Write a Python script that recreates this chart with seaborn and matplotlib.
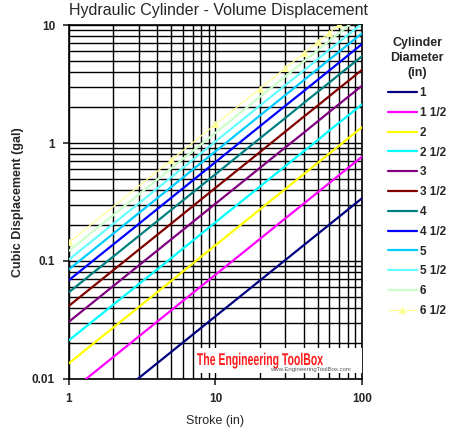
import numpy as np
import pandas as pd
import seaborn as sns
import matplotlib
import matplotlib.pyplot as plt
from matplotlib.lines import Line2D
from matplotlib.patches import PathPatch, Rectangle
from matplotlib.textpath import TextPath
from matplotlib.font_manager import FontProperties
from matplotlib.transforms import Affine2D, IdentityTransform
from matplotlib.ticker import LogLocator, NullFormatter, FixedLocator, FixedFormatter

matplotlib.use("Agg")

# stroke (in)
stroke = [1, 5, 10, 20, 30, 40, 50, 60, 70, 80, 90, 100]

# cubic displacement (gal), one list per cylinder diameter
vol_1 = [0.0034, 0.017, 0.034, 0.068, 0.102, 0.136, 0.17, 0.204, 0.238, 0.272, 0.306, 0.34]
vol_1_5 = [0.00765, 0.0383, 0.0765, 0.153, 0.230, 0.306, 0.383, 0.459, 0.536, 0.612, 0.689, 0.765]
vol_2 = [0.0136, 0.068, 0.136, 0.272, 0.408, 0.544, 0.68, 0.816, 0.952, 1.088, 1.224, 1.36]
vol_2_5 = [0.0213, 0.106, 0.213, 0.425, 0.638, 0.85, 1.06, 1.28, 1.49, 1.70, 1.91, 2.13]
vol_3 = [0.0306, 0.153, 0.306, 0.612, 0.918, 1.22, 1.53, 1.84, 2.14, 2.45, 2.75, 3.06]
vol_3_5 = [0.0417, 0.208, 0.417, 0.833, 1.25, 1.67, 2.08, 2.50, 2.92, 3.33, 3.75, 4.17]
vol_4 = [0.0544, 0.272, 0.544, 1.09, 1.63, 2.18, 2.72, 3.26, 3.81, 4.35, 4.90, 5.44]
vol_4_5 = [0.0689, 0.344, 0.689, 1.38, 2.07, 2.75, 3.44, 4.13, 4.82, 5.51, 6.20, 6.89]
vol_5 = [0.085, 0.425, 0.85, 1.70, 2.55, 3.40, 4.25, 5.10, 5.95, 6.80, 7.65, 8.50]
vol_5_5 = [0.103, 0.514, 1.03, 2.06, 3.09, 4.11, 5.14, 6.17, 7.20, 8.23, 9.26, 10.3]
vol_6 = [0.122, 0.612, 1.22, 2.45, 3.67, 4.90, 6.12, 7.34, 8.57, 9.79, 11.0, 12.2]
vol_6_5 = [0.144, 0.718, 1.44, 2.87, 4.31, 5.75, 7.18, 8.62, 10.1, 11.5, 12.9, 14.4]

diameters = ["1", "1 1/2", "2", "2 1/2", "3", "3 1/2", "4", "4 1/2", "5", "5 1/2", "6", "6 1/2"]
volumes = [vol_1, vol_1_5, vol_2, vol_2_5, vol_3, vol_3_5, vol_4, vol_4_5,
           vol_5, vol_5_5, vol_6, vol_6_5]
colors = ["#000080", "#FF00FF", "#FFFF00", "#00FFFF", "#800080", "#800000",
          "#008080", "#0000FF", "#00CCFF", "#66FFFF", "#CCFFCC", "#FFFF99"]

sns.set_style("white")
plt.rcParams["font.family"] = ["Liberation Sans", "DejaVu Sans"]

fig = plt.figure(figsize=(4.55, 4.41), dpi=100)
ax = fig.add_axes([0.1516, 0.1406, 0.644, 0.8027])

handles = []
for name, vals, col in zip(diameters, volumes, colors):
    df = pd.DataFrame({"stroke": stroke, "vol": vals})
    last = name == "6 1/2"
    sns.lineplot(x="stroke", y="vol", data=df, ax=ax, color=col,
                 lw=0.9 if last else 1.6,
                 marker="^" if last else None, markersize=5,
                 markeredgecolor=col, zorder=3)
    handles.append(Line2D([0], [0], color=col, lw=0.9 if last else 1.6,
                          marker="^" if last else None, markersize=5,
                          markeredgecolor=col))

ax.set_xscale("log")
ax.set_yscale("log")
ax.set_xlim(1, 100)
ax.set_ylim(0.01, 10)

ax.xaxis.set_major_locator(FixedLocator([1, 10, 100]))
ax.xaxis.set_major_formatter(FixedFormatter(["1", "10", "100"]))
ax.yaxis.set_major_locator(FixedLocator([0.01, 0.1, 1, 10]))
ax.yaxis.set_major_formatter(FixedFormatter(["0.01", "0.1", "1", "10"]))
ax.xaxis.set_minor_locator(LogLocator(base=10, subs=np.arange(2, 10)))
ax.yaxis.set_minor_locator(LogLocator(base=10, subs=np.arange(2, 10)))
ax.xaxis.set_minor_formatter(NullFormatter())
ax.yaxis.set_minor_formatter(NullFormatter())

ax.grid(True, which="both", color="black", lw=1.0, zorder=1)
ax.set_axisbelow(True)
for s in ax.spines.values():
    s.set_color("black")
    s.set_linewidth(1.2)

ax.tick_params(axis="both", which="major", length=4, width=1.2, direction="out",
               labelsize=8.5, pad=6, bottom=True, left=True)
ax.tick_params(axis="both", which="minor", length=0)
for lab in ax.get_xticklabels() + ax.get_yticklabels():
    lab.set_fontweight("bold")

ax.set_xlabel("Stroke (in)", fontsize=9, labelpad=7)
ax.set_ylabel("Cubic Displacement (gal)", fontsize=9, fontweight="bold", labelpad=6)
fig.text(0.481, 0.977, "Hydraulic Cylinder - Volume Displacement",
         ha="center", va="center", fontsize=11.5)

# watermark: white box, condensed red logo text, small url
ax.add_patch(Rectangle((0.435, 0.018), 0.565, 0.07, transform=ax.transAxes,
                       facecolor="white", edgecolor="none", zorder=4))
tp = TextPath((0, 0), "The Engineering ToolBox", size=17,
              prop=FontProperties(family="Liberation Sans", weight="bold"))
ext = tp.get_extents()
sx = 126.0 / ext.width
logo_tf = Affine2D().scale(sx, 1.0).translate(197 - ext.x0 * sx, 441 - 365)
ax.add_patch(PathPatch(tp, transform=logo_tf + IdentityTransform(),
                       facecolor="#FF1A1A", edgecolor="none", zorder=5))
ax.text(0.96, 0.028, "www.EngineeringToolBox.com", transform=ax.transAxes,
        color="#555555", fontsize=4.3, ha="right", va="center", zorder=5)

leg = fig.legend(handles, diameters, loc="upper left",
                 bbox_to_anchor=(0.83, 0.94), frameon=False,
                 title="Cylinder\nDiameter\n(in)",
                 prop={"weight": "bold", "size": 8.5},
                 title_fontproperties={"weight": "bold", "size": 9},
                 handlelength=2.4, handletextpad=0.25, labelspacing=0.66)
leg.get_title().set_multialignment("center")
leg.get_title().set_linespacing(1.35)
leg._legend_box.align = "center"

fig.savefig("out.png", dpi=100)
